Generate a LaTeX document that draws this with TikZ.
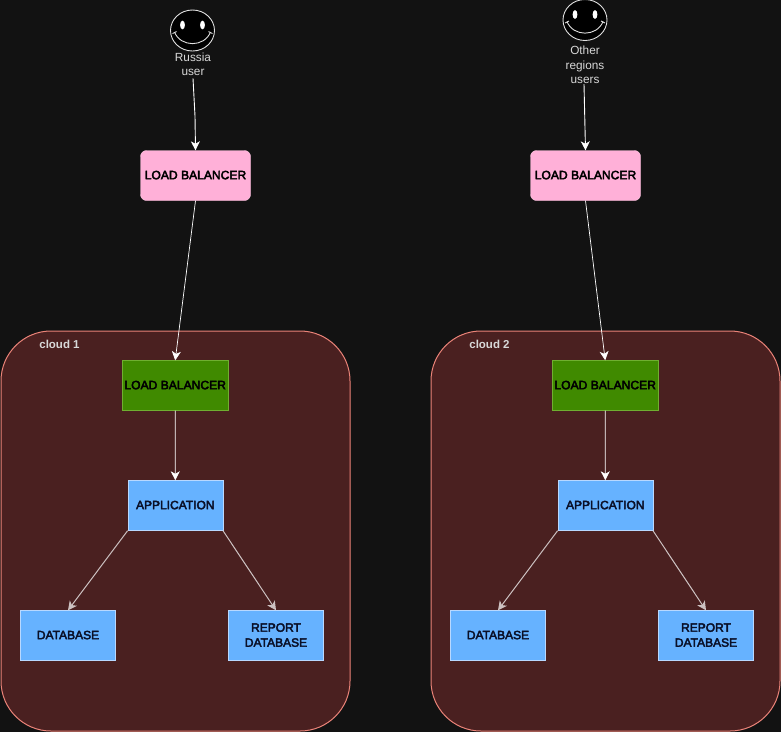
\documentclass[tikz,border=0pt]{standalone}
\usepackage{fontspec}
\setmainfont{Liberation Sans}
\newfontfamily\boxfont[FakeBold=3.5]{Liberation Sans}
\newcommand{\uptext}[1]{\raisebox{1pt}{#1}}
\usetikzlibrary{arrows.meta,shapes.geometric}
\definecolor{bgdark}{HTML}{121212}
\definecolor{cloudfill}{HTML}{4A2020}
\definecolor{cloudline}{HTML}{EA8378}
\definecolor{pinkfill}{HTML}{FFB0D8}
\definecolor{greenfill}{HTML}{408A00}
\definecolor{greenline}{HTML}{6FAF30}
\definecolor{bluefill}{HTML}{66B2FF}
\definecolor{blueline}{HTML}{B8D8FF}
\definecolor{labelgray}{HTML}{D8D8D8}
\definecolor{darktext}{HTML}{0A1028}
\tikzset{
  x=1pt, y=-1pt,
  cloudbox/.style={draw=cloudline, fill=cloudfill, line width=1pt, rounded corners=50pt},
  pinkbox/.style={draw=pinkfill!70!white, fill=pinkfill, rounded corners=6pt, minimum width=110pt, minimum height=50pt, inner sep=0pt, text=black, font=\fontsize{12.1}{14}\boxfont},
  greenbox/.style={draw=greenline, fill=greenfill, minimum width=105.5pt, minimum height=50pt, inner sep=0pt, text=black, font=\fontsize{12.1}{14}\boxfont},
  bluebox/.style={draw=blueline, fill=bluefill, minimum width=95pt, minimum height=50pt, inner sep=0pt, align=center, text=darktext, font=\fontsize{12}{15}\boxfont},
  userlabel/.style={text=labelgray, align=center, inner sep=0pt, font=\fontsize{11.8}{14.5}\selectfont},
  cloudlabel/.style={text=labelgray, inner sep=0pt, font=\fontsize{11.5}{14}\selectfont\bfseries},
  conn/.style={draw=white, line width=0.9pt, -{Stealth[length=9pt,width=9pt,inset=2.5pt]}},
  dimconn/.style={conn, line width=1pt, draw=white!72!cloudfill},
  faceline/.style={draw=white!88!black, line width=0.9pt},
}
\begin{document}
\begin{tikzpicture}
  \useasboundingbox (0,0) rectangle (781,732);
  % background
  \fill[bgdark] (0,0) rectangle (781,732);

  % both clouds, second one is shifted by 430
  \foreach \dx/\n in {0/1, 430/2} {
    \draw[cloudbox] (\dx+1,331) rectangle (\dx+350,731);
    \node[cloudlabel] (cloudtext\n) at (\dx+59.5,344.5) {cloud \n};
    \node[greenbox] (lbgreen\n) at (\dx+175.2,385.5) {\uptext{LOAD BALANCER}};
    \node[bluebox] (app\n) at (\dx+175.3,505.5) {\uptext{APPLICATION}};
    \node[bluebox] (db\n) at (\dx+68,635.5) {\uptext{DATABASE}};
    \node[bluebox] (report\n) at (\dx+276,635.5) {\uptext{REPORT}\\\uptext{DATABASE}};
    \draw[conn] (lbgreen\n.south) -- (app\n.north);
    \draw[dimconn] (app\n.south west) -- (db\n.north);
    \draw[dimconn] (app\n.south east) -- (report\n.north);
  }

  % smileys
  \foreach \cx/\cy/\n in {192.5/30.5/a, 585/20/b} {
    \node[ellipse, draw=white!88!black, fill=black, line width=0.9pt, minimum width=44pt, minimum height=41pt, inner sep=0pt] (face\n) at (\cx,\cy) {};
    \fill[white] (\cx-10,\cy-5.5) ellipse (2.4 and 4.4);
    \fill[white] (\cx+10,\cy-5.5) ellipse (2.4 and 4.4);
    \draw[faceline] (\cx-18,\cy+1.5) .. controls (\cx-12,\cy+17) and (\cx+12,\cy+17) .. (\cx+18,\cy+1.5);
    \draw[faceline] (\cx-20,\cy+3) -- (\cx-16,\cy+1);
    \draw[faceline] (\cx+20,\cy+3) -- (\cx+16,\cy+1);
  }

  % users
  \node[userlabel] (russia) at (193,64.5) {Russia\\user};
  \node[userlabel] (other) at (585,65) {Other\\regions\\users};

  % pink balancers
  \node[pinkbox] (lbpink1) at (195.5,175.5) {\uptext{LOAD BALANCER}};
  \node[pinkbox] (lbpink2) at (585.5,175.5) {\uptext{LOAD BALANCER}};

  \coordinate (bend) at (195,116);
  \draw[conn] (russia.south) ++(0,2) -- (bend) -- (lbpink1.north);
  \draw[conn] (other.south) ++(-1,0) -- (lbpink2.north);
  \draw[conn, line width=0.7pt] (lbpink1.south) -- (lbgreen1.north);
  \draw[conn, line width=0.7pt] (lbpink2.south) -- (lbgreen2.north);
\end{tikzpicture}
\end{document}
